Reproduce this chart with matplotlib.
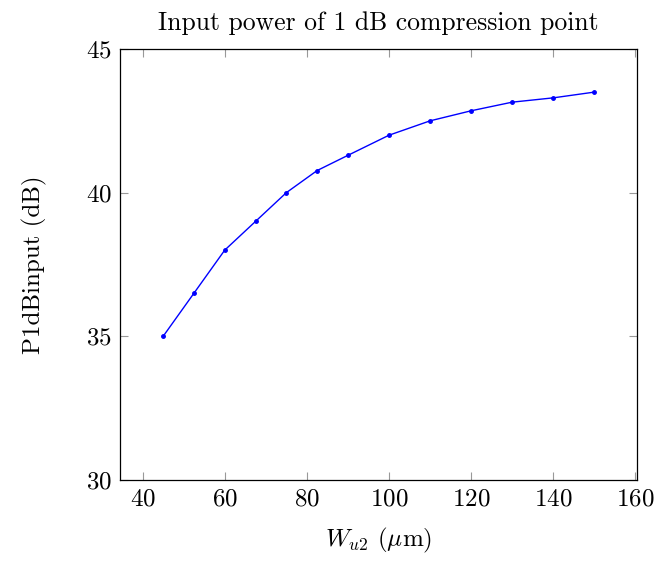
import matplotlib
matplotlib.use("Agg")
import matplotlib.pyplot as plt

# data
width_um = [45, 52.5, 60, 67.5, 75, 82.5, 90, 100, 110, 120, 130, 140, 150]
p1db_input = [35.0, 36.5, 38.0, 39.0, 40.0, 40.77, 41.3, 42.0, 42.5, 42.85, 43.15, 43.3, 43.5]
x_ticks = [40, 60, 80, 100, 120, 140, 160]
y_ticks = [30, 35, 40, 45]

plt.rcParams["font.family"] = "serif"
plt.rcParams["font.serif"] = ["cmr10", "DejaVu Serif"]
plt.rcParams["mathtext.fontset"] = "cm"
plt.rcParams["axes.formatter.use_mathtext"] = True

fig = plt.figure(figsize=(6.56, 5.63), dpi=100)
ax = fig.add_axes([120 / 656, 1 - 480 / 563, (637.5 - 120) / 656, (480 - 49) / 563])

ax.plot(width_um, p1db_input, color="blue", linewidth=1.0, marker="o", markersize=2.5)

ax.set_xlim(34.5, 160.5)
ax.set_ylim(30, 45)
ax.set_xticks(x_ticks)
ax.set_yticks(y_ticks)
ax.tick_params(direction="in", length=6, width=0.8, color="#999999",
               top=True, right=True, labelsize=18, pad=6)
for s in ax.spines.values():
    s.set_linewidth(0.9)

ax.set_title("Input power of 1 dB compression point", fontsize=18.5, pad=14)
ax.set_xlabel(r"$W_{u2}$ ($\mu$m)", fontsize=18, labelpad=11)
ax.set_ylabel("P1dBinput (dB)", fontsize=18, labelpad=28)

fig.savefig("out.png", dpi=100)
